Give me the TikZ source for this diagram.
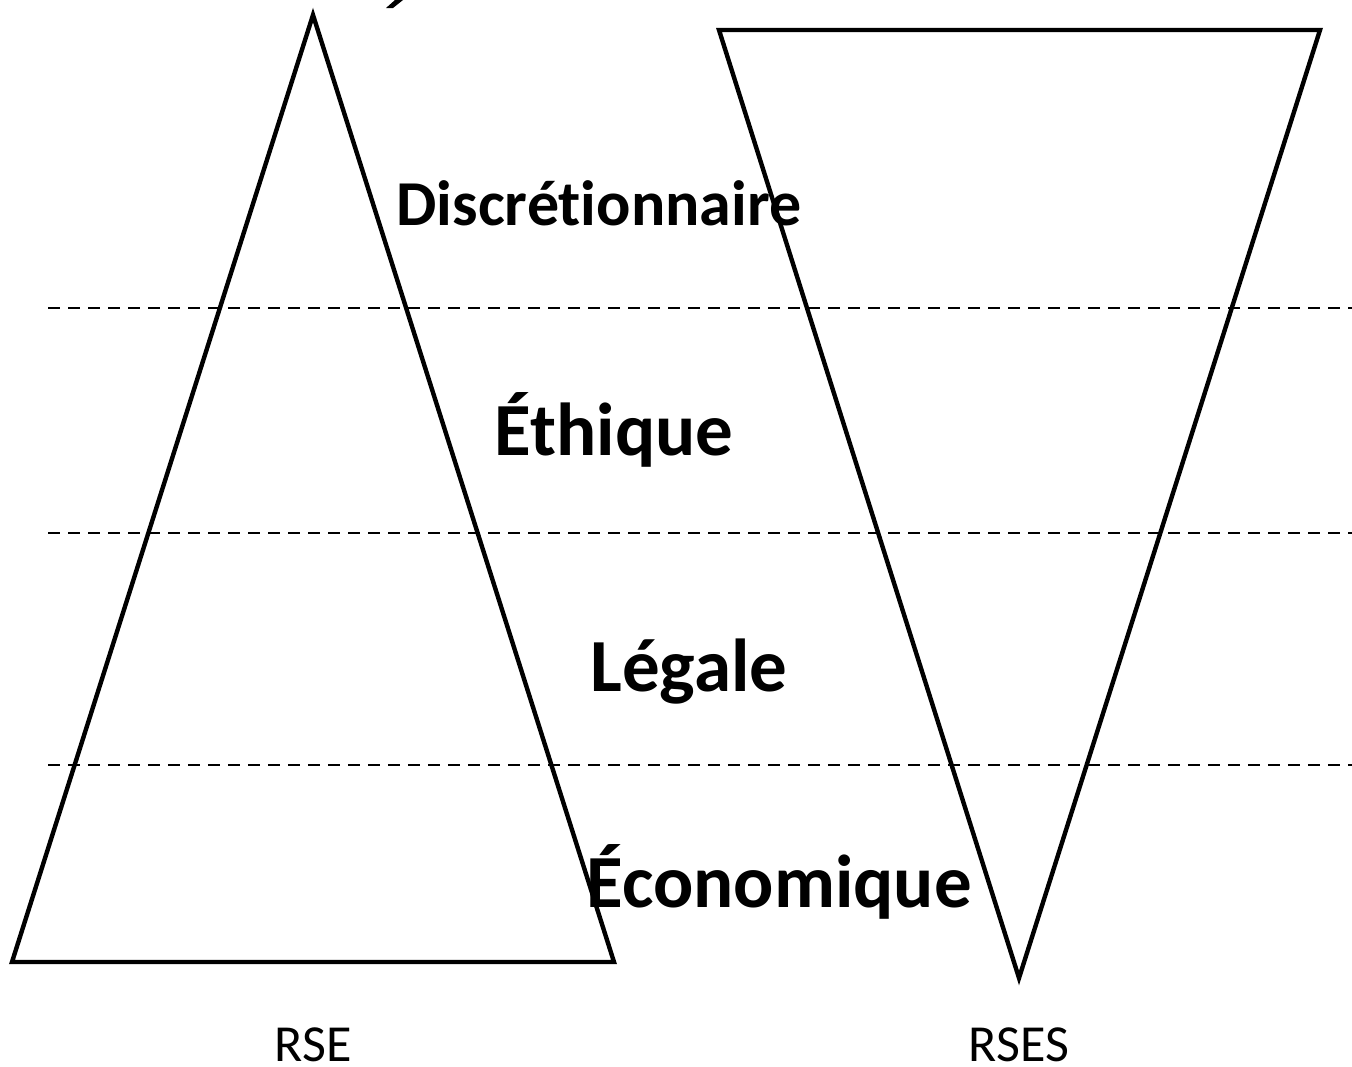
\documentclass[tikz,border=0pt]{standalone}
\usepackage{fontspec}
\setmainfont[Ligatures=CommonOff]{Carlito}
\begin{document}
\begin{tikzpicture}[x=0.5pt,y=-0.5pt,
  tri/.style={draw=black,line width=2.2pt,line join=miter},
  sep/.style={draw=black,line width=1pt,dash pattern=on 6pt off 4pt},
  lvl/.style={font=\bfseries\fontsize{37.5}{40}\selectfont,inner sep=0pt},
  lvlsmall/.style={font=\bfseries\fontsize{32}{36}\selectfont,inner sep=0pt},
  captxt/.style={font=\fontsize{26}{30}\selectfont,inner sep=0pt,anchor=base}]
\useasboundingbox[fill=white] (0,0) rectangle (1352,1066);
% separators
\coordinate (s1a) at (48,308); \coordinate (s1b) at (1352,308);
\coordinate (s2a) at (48,533); \coordinate (s2b) at (1352,533);
\coordinate (s3a) at (48,765); \coordinate (s3b) at (1352,765);
\draw[sep] (s1a) -- (s1b);
\draw[sep] (s2a) -- (s2b);
\draw[sep] (s3a) -- (s3b);
% triangles
\coordinate (A1) at (313,15); \coordinate (A2) at (12,962); \coordinate (A3) at (614,962);
\coordinate (B1) at (719,30); \coordinate (B2) at (1320,30); \coordinate (B3) at (1019,978);
\draw[tri] (A1) -- (A2) -- (A3) -- cycle;
\draw[tri] (B1) -- (B2) -- (B3) -- cycle;
% cut-off stroke at top
\fill (386,8) -- (393,8) -- (403,0) -- (395,0) -- cycle;
% labels
\node[lvlsmall] (disc) at (599,203) {Discrétionnaire};
\node[lvl] (eth) at (614,430) {Éthique};
\node[lvl] (leg) at (689,672) {Légale};
\node[lvl] (eco) at (779,882) {Économique};
\node[captxt] (rse) at (313,1061) {RSE};
\node[captxt] (rses) at (1019,1061) {RSES};
\end{tikzpicture}
\end{document}
